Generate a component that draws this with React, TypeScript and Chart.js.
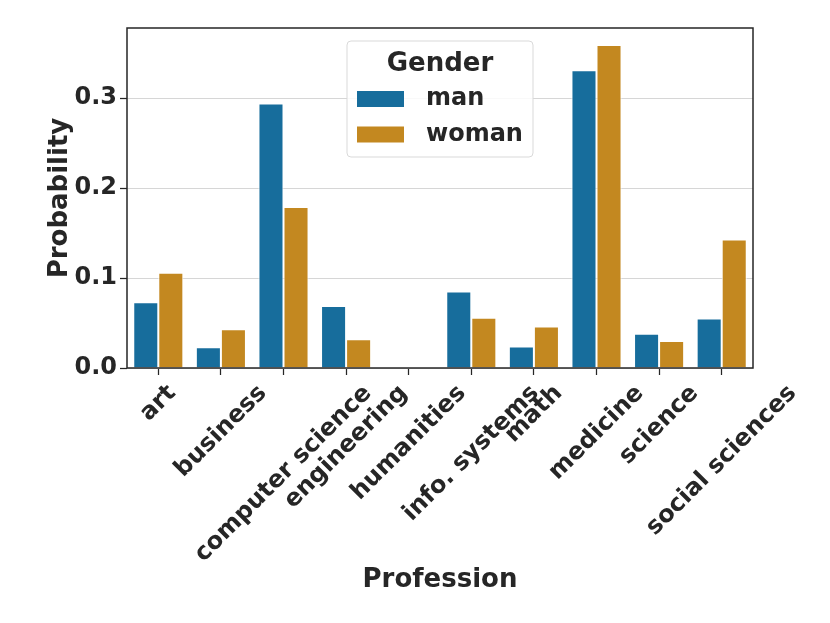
import React, { useEffect, useRef } from "react";
import { Chart, registerables } from "chart.js";

Chart.register(...registerables);

const professions = [
  "art",
  "business",
  "computer science",
  "engineering",
  "humanities",
  "info. systems",
  "math",
  "medicine",
  "science",
  "social sciences",
];
const manValues = [0.073, 0.023, 0.294, 0.069, 0, 0.085, 0.024, 0.331, 0.038, 0.055];
const womanValues = [0.106, 0.043, 0.179, 0.032, 0, 0.056, 0.046, 0.359, 0.03, 0.143];
const yTicks = [0, 0.1, 0.2, 0.3];
const legendTitle = "Gender";
const xTitle = "Profession";
const yTitle = "Probability";

const FONT = "'DejaVu Sans', sans-serif";
const TEXT = "#262626";
const MAN_COLOR = "#176d9c";
const WOMAN_COLOR = "#c38820";

// matplotlib-style rotated tick labels (centred), box spines and legend
const decorations = {
  id: "decorations",
  afterDraw(chart: any) {
    const { ctx, chartArea: a, scales } = chart;
    const xs = scales.x;
    ctx.save();

    ctx.strokeStyle = TEXT;
    ctx.lineWidth = 1.5;
    ctx.strokeRect(a.left, a.top, a.right - a.left, a.bottom - a.top);

    ctx.font = `bold 24px ${FONT}`;
    ctx.fillStyle = TEXT;
    ctx.textAlign = "center";
    ctx.textBaseline = "middle";
    professions.forEach((label, i) => {
      const px = xs.getPixelForTick(i);
      const w = ctx.measureText(label).width;
      const half = ((w + 24) * Math.SQRT1_2) / 2;
      ctx.save();
      ctx.translate(px, a.bottom + 13 + half);
      ctx.rotate(-Math.PI / 4);
      ctx.fillText(label, 0, 0);
      ctx.restore();
    });

    // legend
    const bx = a.left + 220;
    const by = a.top + 13;
    const bw = 186;
    const bh = 116;
    ctx.beginPath();
    ctx.roundRect(bx, by, bw, bh, 4);
    ctx.fillStyle = "rgba(255,255,255,0.85)";
    ctx.fill();
    ctx.strokeStyle = "#d9d9d9";
    ctx.lineWidth = 1;
    ctx.stroke();

    ctx.fillStyle = TEXT;
    ctx.font = `bold 26px ${FONT}`;
    ctx.textAlign = "center";
    ctx.fillText(legendTitle, bx + bw / 2, by + 23);

    ctx.font = `bold 24px ${FONT}`;
    ctx.textAlign = "left";
    chart.data.datasets.forEach((ds: any, i: number) => {
      const cy = by + 58 + i * 35.5;
      ctx.fillStyle = ds.backgroundColor;
      ctx.fillRect(bx + 10, cy - 8, 47, 16);
      ctx.fillStyle = TEXT;
      ctx.fillText(ds.label, bx + 79, cy);
    });

    ctx.restore();
  },
};

export default function App() {
  const canvasRef = useRef<HTMLCanvasElement | null>(null);

  useEffect(() => {
    document.body.style.margin = "0";
    if (!canvasRef.current) return;

    const chart = new Chart(canvasRef.current, {
      type: "bar",
      data: {
        labels: professions,
        datasets: [
          {
            label: "man",
            data: manValues,
            backgroundColor: MAN_COLOR,
            borderColor: "#ffffff",
            borderWidth: 1,
            barPercentage: 1,
            categoryPercentage: 0.8,
          },
          {
            label: "woman",
            data: womanValues,
            backgroundColor: WOMAN_COLOR,
            borderColor: "#ffffff",
            borderWidth: 1,
            barPercentage: 1,
            categoryPercentage: 0.8,
          },
        ],
      },
      options: {
        animation: false,
        responsive: true,
        maintainAspectRatio: false,
        layout: { padding: { left: 0, top: 28, right: 77, bottom: 0 } },
        plugins: { legend: { display: false }, tooltip: { enabled: false } },
        scales: {
          x: {
            grid: {
              display: true,
              drawOnChartArea: false,
              drawTicks: true,
              tickLength: 7,
              tickColor: TEXT,
              tickWidth: 1.25,
              offset: false,
            },
            border: { display: false },
            ticks: { display: false },
            title: {
              display: true,
              text: xTitle,
              color: TEXT,
              font: { family: FONT, size: 26, weight: "bold" },
              padding: { top: 0, bottom: 27 },
            },
            afterFit: (s: any) => {
              s.height = 255;
            },
          },
          y: {
            min: 0,
            max: 0.378,
            afterBuildTicks: (s: any) => {
              s.ticks = yTicks.map((v) => ({ value: v }));
            },
            grid: {
              color: "#d6d6d6",
              lineWidth: 1,
              tickColor: TEXT,
              tickLength: 7,
              tickWidth: 1.25,
            },
            border: { display: false },
            ticks: {
              color: TEXT,
              font: { family: FONT, size: 24, weight: "bold" },
              padding: 3,
              callback: (v: any) => Number(v).toFixed(1),
            },
            title: {
              display: true,
              text: yTitle,
              color: TEXT,
              font: { family: FONT, size: 26, weight: "bold" },
              padding: { top: 45, bottom: 0 },
            },
            afterFit: (s: any) => {
              s.width = 127;
            },
          },
        },
      } as any,
      plugins: [decorations],
    });

    return () => {
      chart.destroy();
    };
  }, []);

  return (
    <div style={{ width: 830, height: 623, position: "relative", background: "#fff" }}>
      <canvas ref={canvasRef} />
    </div>
  );
}
